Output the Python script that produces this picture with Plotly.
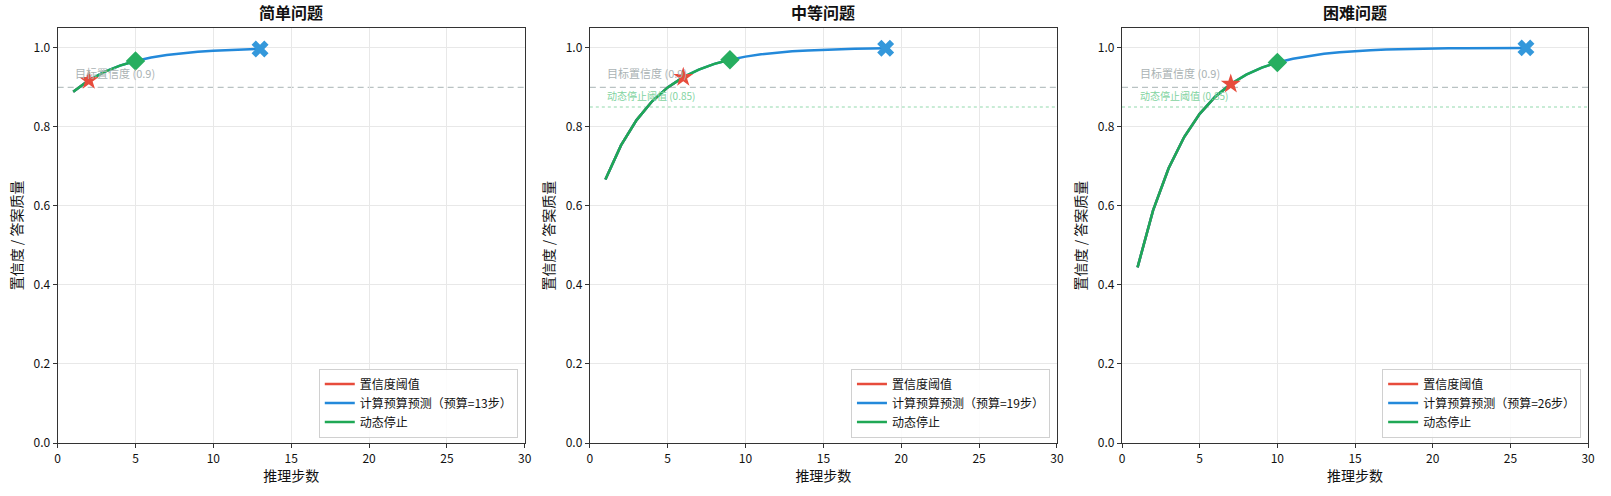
import plotly.graph_objects as go

titles = ["简单问题", "中等问题", "困难问题"]
budgets = [13, 19, 26]
threshold_steps = [2, 6, 7]
stop_steps = [5, 9, 10]
show_dynamic_line = [False, True, True]

easy_conf = [0.8889, 0.9177, 0.9390, 0.9548, 0.9665, 0.9752, 0.9816, 0.9864, 0.9899, 0.9925,
             0.9945, 0.9959, 0.9970]
medium_conf = [0.6666, 0.7530, 0.8170, 0.8645, 0.8996, 0.9256, 0.9449, 0.9592, 0.9698, 0.9776,
               0.9834, 0.9877, 0.9909, 0.9933, 0.9950, 0.9963, 0.9973, 0.9980, 0.9985]
hard_conf = [0.4444, 0.5884, 0.6951, 0.7741, 0.8327, 0.8760, 0.9082, 0.9320, 0.9496, 0.9627,
             0.9723, 0.9795, 0.9848, 0.9887, 0.9917, 0.9938, 0.9954, 0.9966, 0.9975, 0.9981,
             0.9986, 0.9990, 0.9992, 0.9994, 0.9996, 0.9997]
series = [easy_conf, medium_conf, hard_conf]

target_conf = 0.9
dynamic_thr = 0.85

x_ticks = [0, 5, 10, 15, 20, 25, 30]
y_ticks = [0.0, 0.2, 0.4, 0.6, 0.8, 1.0]

RED = "#e74c3c"
BLUE_LINE = "#2389da"
BLUE_MK = "#3498db"
GREEN_LINE = "#1fa855"
GREEN_MK = "#27ae60"
FONT = "Noto Sans CJK SC"

W, H = 1611, 496
domains_px = [(55, 525), (590.5, 1060.5), (1126, 1595)]
domains = [(a / W, b / W) for a, b in domains_px]

fig = go.Figure()
annotations = []
shapes = []
legend_names = ["legend", "legend2", "legend3"]

for i in range(3):
    conf = series[i]
    steps = list(range(1, len(conf) + 1))
    xa = "x" if i == 0 else f"x{i+1}"
    ya = "y" if i == 0 else f"y{i+1}"
    lg = legend_names[i]
    ts, ss, b = threshold_steps[i], stop_steps[i], budgets[i]

    fig.add_trace(go.Scatter(x=steps[:ts], y=conf[:ts], mode="lines", line=dict(color=RED, width=2.5),
                             name="置信度阈值", xaxis=xa, yaxis=ya, legend=lg))
    fig.add_trace(go.Scatter(x=steps, y=conf, mode="lines", line=dict(color=BLUE_LINE, width=2.5),
                             name=f"计算预算预测（预算={b}步）", xaxis=xa, yaxis=ya, legend=lg))
    fig.add_trace(go.Scatter(x=steps[:ss], y=conf[:ss], mode="lines", line=dict(color=GREEN_LINE, width=2.5),
                             name="动态停止", xaxis=xa, yaxis=ya, legend=lg))
    fig.add_trace(go.Scatter(x=[steps[ts - 1]], y=[conf[ts - 1]], mode="markers",
                             marker=dict(symbol="star", size=15, color=RED, line=dict(width=0)),
                             showlegend=False, xaxis=xa, yaxis=ya))
    fig.add_trace(go.Scatter(x=[steps[ss - 1]], y=[conf[ss - 1]], mode="markers",
                             marker=dict(symbol="diamond", size=15, color=GREEN_MK, line=dict(width=0)),
                             showlegend=False, xaxis=xa, yaxis=ya))
    fig.add_trace(go.Scatter(x=[steps[b - 1]], y=[conf[b - 1]], mode="markers",
                             marker=dict(symbol="x", size=15, color=BLUE_MK, line=dict(width=0)),
                             showlegend=False, xaxis=xa, yaxis=ya))

    xref = xa
    yref = ya
    shapes.append(dict(type="line", xref=f"{xa} domain", yref=yref, x0=0, x1=1, y0=target_conf, y1=target_conf,
                       line=dict(color="#b9c2c3", width=1.2, dash="6px,4px"), layer="below"))
    annotations.append(dict(text="目标置信度 (0.9)", x=1, y=0.911, xref=xref, yref=yref, xanchor="left",
                            yanchor="bottom", showarrow=False, font=dict(family=FONT, size=11, color="#aab3b4")))
    if show_dynamic_line[i]:
        shapes.append(dict(type="line", xref=f"{xa} domain", yref=yref, x0=0, x1=1, y0=dynamic_thr, y1=dynamic_thr,
                           line=dict(color="#93d9ae", width=1.1, dash="dot"), layer="below"))
        annotations.append(dict(text="动态停止阈值 (0.85)", x=1, y=0.855, xref=xref, yref=yref, xanchor="left",
                                yanchor="bottom", showarrow=False, font=dict(family=FONT, size=10, color="#7fd3a0")))
    d0, d1 = domains[i]
    annotations.append(dict(text=f"<b>{titles[i]}</b>", x=(d0 + d1) / 2, y=1, xref="paper", yref="paper",
                            xanchor="center", yanchor="bottom", yshift=2, showarrow=False,
                            font=dict(family=FONT, size=16, color="#111")))

axis_common = dict(showline=True, linecolor="#333", linewidth=1.2, mirror=True, ticks="outside", ticklen=4,
                   tickcolor="#333", showgrid=True, gridcolor="#e8e8e8", gridwidth=1, zeroline=False,
                   tickfont=dict(family=FONT, size=12, color="#111"))

layout = dict(width=W, height=H, margin=dict(l=0, r=0, t=28, b=53), plot_bgcolor="white", paper_bgcolor="white",
              font=dict(family=FONT, size=12, color="#111"), annotations=annotations, shapes=shapes)

for i in range(3):
    sfx = "" if i == 0 else str(i + 1)
    layout[f"xaxis{sfx}"] = dict(axis_common, domain=list(domains[i]), range=[0, 30], tickvals=x_ticks,
                                 anchor=f"y{sfx}",
                                 title=dict(text="推理步数", font=dict(family=FONT, size=14), standoff=4))
    layout[f"yaxis{sfx}"] = dict(axis_common, domain=[0, 1], range=[0, 1.05], tickvals=y_ticks, tickformat=".1f",
                                 anchor=f"x{sfx}",
                                 title=dict(text="置信度 / 答案质量", font=dict(family=FONT, size=14), standoff=7))
    lg = legend_names[i]
    layout[lg] = dict(x=(domains_px[i][1] - 7) / W, xanchor="right", y=0.013, yanchor="bottom",
                      bgcolor="rgba(255,255,255,0.85)", bordercolor="#d0d0d0", borderwidth=1,
                      font=dict(family=FONT, size=12, color="#111"), tracegroupgap=0, itemwidth=30)

fig.update_layout(**layout)
fig.write_html("out.html")
